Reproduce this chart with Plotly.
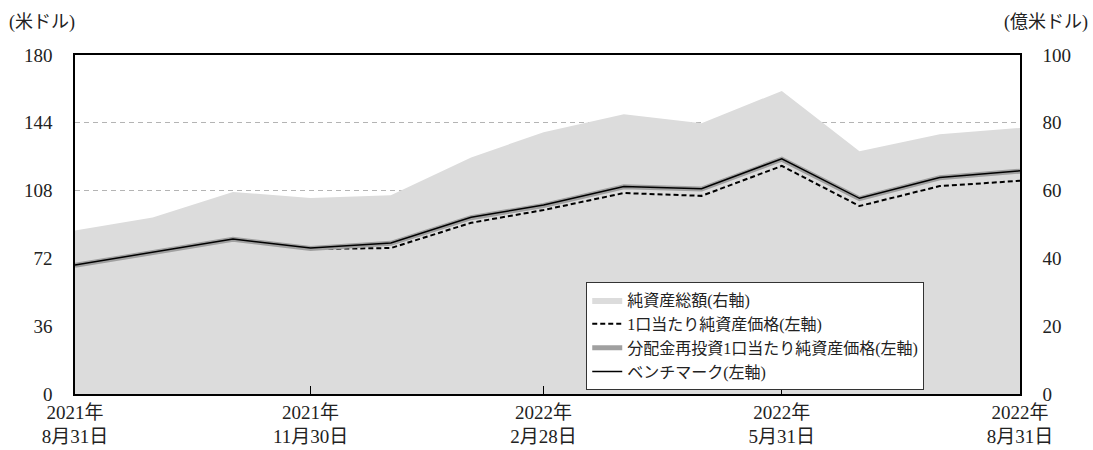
import plotly.graph_objects as go

# Month-end dates
dates = ["2021-08-31", "2021-09-30", "2021-10-31", "2021-11-30", "2021-12-31",
         "2022-01-31", "2022-02-28", "2022-03-31", "2022-04-30", "2022-05-31",
         "2022-06-30", "2022-07-31", "2022-08-31"]

# Total net assets (100 million USD, right axis)
net_assets = [48.2, 52.1, 59.6, 57.8, 58.6, 69.8, 77.2, 82.5, 79.9, 89.4, 71.6, 76.6, 78.5]
# NAV per unit (USD, left axis)
nav = [68.2, 74.8, 82.0, 77.0, 77.5, 90.9, 97.7, 106.7, 105.2, 121.1, 99.8, 110.4, 113.2]
# NAV per unit with distributions reinvested (USD, left axis)
nav_reinvested = [68.3, 75.0, 82.1, 77.3, 80.0, 93.6, 100.1, 110.0, 108.8, 124.7, 103.7, 114.8, 118.3]
# Benchmark (USD, left axis)
benchmark = [68.5, 75.2, 82.3, 77.5, 80.2, 93.8, 100.3, 110.2, 109.0, 124.9, 103.9, 115.0, 118.5]

tick_dates = ["2021-08-31", "2021-11-30", "2022-02-28", "2022-05-31", "2022-08-31"]
tick_text = ["2021年<br>8月31日", "2021年<br>11月30日", "2022年<br>2月28日",
             "2022年<br>5月31日", "2022年<br>8月31日"]
left_ticks = [0, 36, 72, 108, 144, 180]
right_ticks = [0, 20, 40, 60, 80, 100]

FONT = "Liberation Serif, Noto Sans CJK JP"
TXT = "#222222"

fig = go.Figure()

fig.add_trace(go.Scatter(
    x=dates, y=net_assets, name="純資産総額(右軸)", yaxis="y",
    mode="lines", fill="tozeroy", fillcolor="#dcdcdc",
    line=dict(color="#dcdcdc", width=0),
))
fig.add_trace(go.Scatter(
    x=dates, y=nav, name="1口当たり純資産価格(左軸)", yaxis="y2",
    mode="lines", line=dict(color="#000000", width=2, dash="5px,3px"),
))
fig.add_trace(go.Scatter(
    x=dates, y=nav_reinvested, name="分配金再投資1口当たり純資産価格(左軸)", yaxis="y2",
    mode="lines", line=dict(color="#a0a0a0", width=5),
))
fig.add_trace(go.Scatter(
    x=dates, y=benchmark, name="ベンチマーク(左軸)", yaxis="y2",
    mode="lines", line=dict(color="#000000", width=1.5),
))

fig.update_layout(
    width=1093, height=450,
    margin=dict(l=75, r=73, t=55, b=56),
    paper_bgcolor="white", plot_bgcolor="white",
    font=dict(family=FONT, size=19, color=TXT),
    showlegend=True,
    legend=dict(
        x=0.541, y=0.33, xanchor="left", yanchor="top",
        bgcolor="white", bordercolor="#333333", borderwidth=1,
        font=dict(family=FONT, size=16, color=TXT),
        tracegroupgap=0, itemwidth=30,
    ),
    xaxis=dict(
        type="date", range=["2021-08-31", "2022-08-31"],
        tickvals=tick_dates, ticktext=tick_text,
        ticks="inside", ticklen=8, tickcolor="#000000", tickwidth=1,
        showgrid=False, zeroline=False, automargin=False,
        showline=True, linecolor="#000000", linewidth=1.5, mirror=True,
        tickfont=dict(family=FONT, size=19, color=TXT),
    ),
    yaxis=dict(
        side="right", range=[0, 100], tickvals=right_ticks,
        showgrid=False, zeroline=False, automargin=False,
        showline=True, linecolor="#000000", linewidth=1.5,
        ticks="", ticklabelstandoff=17,
        tickfont=dict(family=FONT, size=19, color=TXT),
    ),
    yaxis2=dict(
        side="left", overlaying="y", range=[0, 180], tickvals=left_ticks,
        showgrid=True, gridcolor="#b4b4b4", griddash="5px,4px", gridwidth=1,
        zeroline=False, automargin=False,
        showline=True, linecolor="#000000", linewidth=1.5,
        ticks="", ticklabelstandoff=17,
        tickfont=dict(family=FONT, size=19, color=TXT),
    ),
    annotations=[
        dict(text="(米ドル)", xref="paper", yref="paper", x=-0.072, y=1.0,
             xanchor="left", yanchor="bottom", yshift=20, showarrow=False,
             font=dict(family=FONT, size=18, color=TXT)),
        dict(text="(億米ドル)", xref="paper", yref="paper", x=1.074, y=1.0,
             xanchor="right", yanchor="bottom", yshift=20, showarrow=False,
             font=dict(family=FONT, size=18, color=TXT)),
    ],
)

fig.write_html("out.html")
